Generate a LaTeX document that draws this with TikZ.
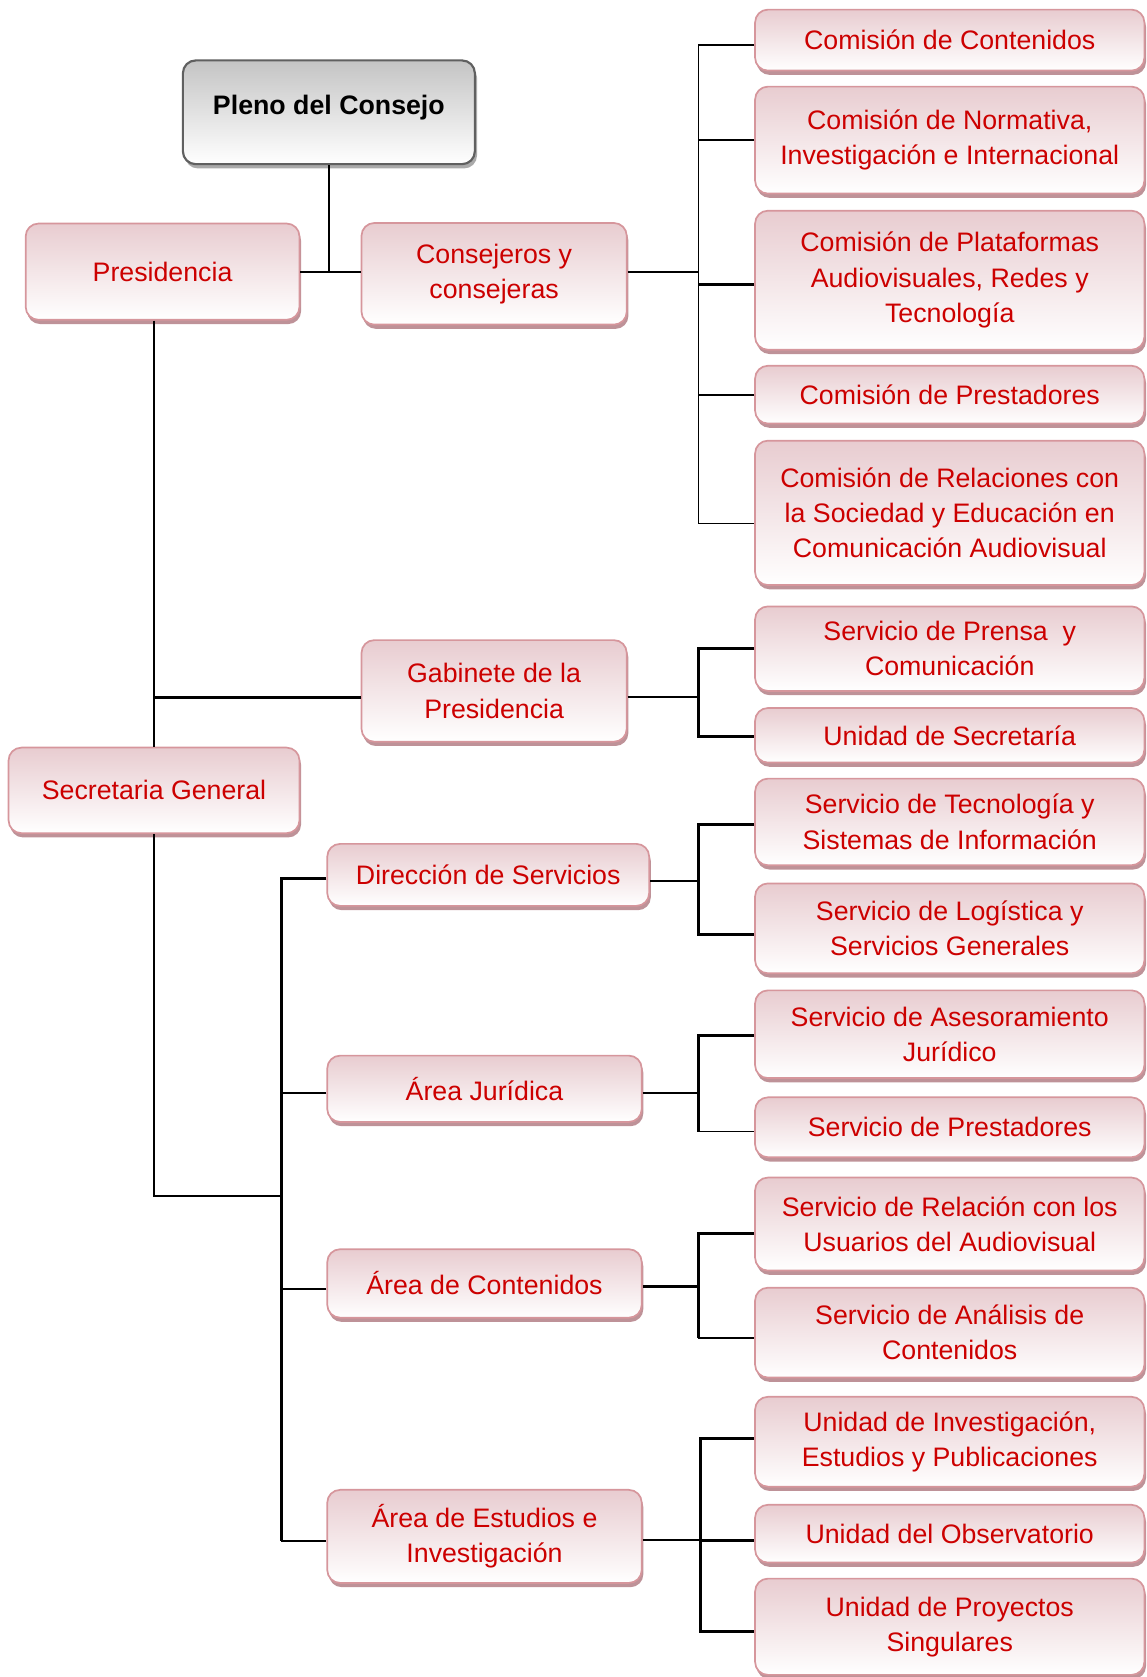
\documentclass[tikz,border=0pt]{standalone}
\usepackage{fontspec}
\setmainfont{Liberation Sans}
\usetikzlibrary{shadows}
\definecolor{txtred}{RGB}{204,0,0}
\definecolor{boxtop}{RGB}{232,204,208}
\definecolor{boxedge}{RGB}{214,150,156}
\definecolor{boxshadow}{RGB}{190,146,152}
\definecolor{graytop}{RGB}{196,196,196}
\definecolor{grayedge}{RGB}{96,96,96}
\definecolor{grayshadow}{RGB}{170,170,170}
\tikzset{
  box/.style={draw=boxedge, line width=1.6pt, rounded corners=12pt,
    top color=boxtop, bottom color=white, text=txtred, align=center,
    font=\fontsize{25}{33}\selectfont, inner sep=0pt,
    drop shadow={shadow xshift=1.5pt, shadow yshift=-4pt, fill=boxshadow, opacity=1}},
  pleno/.style={draw=grayedge, line width=2pt, rounded corners=12pt,
    top color=graytop, bottom color=white, text=black, align=center,
    font=\fontsize{25}{33}\selectfont\bfseries, inner sep=0pt,
    drop shadow={shadow xshift=2pt, shadow yshift=-4pt, fill=grayshadow, opacity=1}},
  sz/.style 2 args={minimum width=#1pt, minimum height=#2pt},
  ln/.style={line width=1.6pt, black},
  lnb/.style={line width=2.8pt, black},
}
\begin{document}
\begin{tikzpicture}[x=1pt,y=-1pt]
\useasboundingbox (0,0) rectangle (1072,1568);
% bus coordinates
\coordinate (bA) at (653,0);
\coordinate (bB) at (655,0);
\coordinate (sb) at (263,1118);
% left/middle nodes
\node[pleno, sz={273}{97}] (pl) at (307.5,105) {\raisebox{4pt}[18pt][5pt]{Pleno del Consejo}};
\node[box, sz={256}{90}] (pres) at (152,254) {Presidencia};
\node[box, sz={248}{95}] (cons) at (462,256) {Consejeros y\\consejeras};
\node[box, sz={248}{95}] (gab) at (462,646) {Gabinete de la\\Presidencia};
\node[box, sz={272}{80}] (sec) at (144,739) {Secretaria General};
\node[box, sz={301}{58}] (dir) at (456.5,818) {Dirección de Servicios};
\node[box, sz={294}{62}] (jur) at (453,1018) {Área Jurídica};
\node[box, sz={294}{64}] (cont) at (453,1200) {Área de Contenidos};
\node[box, sz={294}{87}] (est) at (453,1436.5) {Área de Estudios e\\Investigación};
% right column
\node[box, sz={364}{57}] (c1) at (888,37.5) {Comisión de Contenidos};
\node[box, sz={364}{100}] (c2) at (888,131) {Comisión de Normativa,\\Investigación e Internacional};
\node[box, sz={364}{130}] (c3) at (888,262) {Comisión de Plataformas\\Audiovisuales, Redes y\\Tecnología};
\node[box, sz={364}{54}] (c4) at (888,369) {Comisión de Prestadores};
\node[box, sz={364}{135}] (c5) at (888,479.5) {Comisión de Relaciones con\\la Sociedad y Educación en\\Comunicación Audiovisual};
\node[box, sz={364}{79}] (s1) at (888,606.5) {Servicio de Prensa \ y\\Comunicación};
\node[box, sz={364}{51}] (s2) at (888,687.5) {Unidad de Secretaría};
\node[box, sz={364}{81}] (s3) at (888,768.5) {Servicio de Tecnología y\\Sistemas de Información};
\node[box, sz={364}{84}] (s4) at (888,868) {Servicio de Logística y\\Servicios Generales};
\node[box, sz={364}{82}] (s5) at (888,967) {Servicio de Asesoramiento\\Jurídico};
\node[box, sz={364}{56}] (s6) at (888,1054) {Servicio de Prestadores};
\node[box, sz={364}{87}] (s7) at (888,1144.5) {Servicio de Relación con los\\Usuarios del Audiovisual};
\node[box, sz={364}{84}] (s8) at (888,1246) {Servicio de Análisis de\\Contenidos};
\node[box, sz={364}{84}] (u1) at (888,1348) {Unidad de Investigación,\\Estudios y Publicaciones};
\node[box, sz={364}{54}] (u2) at (888,1434) {Unidad del Observatorio};
\node[box, sz={364}{90}] (u3) at (888,1521) {Unidad de Proyectos\\Singulares};
% connectors: top
\draw[ln] (pl.south) -- (pl.south |- pres.east);
\draw[ln] (pres.east) -- (pres.east -| cons.west);
\draw[ln] (cons.east |- pres.east) -- (pres.east -| bA);
\draw[ln] ([yshift=-4.5pt]c1.west) -| ([yshift=-10pt]bA |- c5.west) -- ([yshift=-10pt]c5.west);
\draw[ln] (c2.west) -- (c2.west -| bA);
\draw[lnb] ([yshift=-4pt]c3.west) -- ([yshift=-4pt]c3.west -| bA);
\draw[ln] (c4.west) -- (c4.west -| bA);
% presidencia trunk
\draw[ln] (pres.south -| sec.north) -- (sec.north);
\draw[lnb] ([yshift=-6pt]gab.west) -- ([yshift=-6pt]gab.west -| sec.north);
\draw[ln] ([yshift=-6pt]gab.east) -- ([yshift=-6pt]gab.east -| bA);
\draw[lnb] (s1.west) -| ([yshift=-1.5pt]bA |- s2.west) -- ([yshift=-1.5pt]s2.west);
% secretaria trunk
\draw[ln] (sec.south) |- (sb);
\draw[lnb] ([yshift=-3pt]dir.west) -| ([yshift=-4.5pt]sb |- est.west);
\draw[ln] ([yshift=-4.5pt]sb |- est.west) -- ([yshift=-4.5pt]est.west);
\draw[ln] ([yshift=-4pt]jur.west) -- ([yshift=-4pt]jur.west -| sb);
\draw[ln] ([yshift=-5pt]cont.west) -- ([yshift=-5pt]cont.west -| sb);
% direccion
\draw[ln] ([yshift=-6pt]dir.east) -- ([yshift=-6pt]dir.east -| bA);
\draw[lnb] ([yshift=-2.5pt]s3.west) -| ([yshift=-6pt]bA |- s4.west) -- ([yshift=-6pt]s4.west);
% juridica
\draw[ln] ([yshift=-4pt]jur.east) -- ([yshift=-4pt]jur.east -| bA);
\draw[lnb] ([yshift=-1pt]s5.west) -| ([yshift=-4pt]bA |- s6.west);
\draw[ln] ([yshift=-4pt]bA |- s6.west) -- ([yshift=-4pt]s6.west);
% contenidos
\draw[lnb] ([yshift=-3pt]cont.east) -- ([yshift=-3pt]cont.east -| bA);
\draw[lnb] ([yshift=-8.5pt]s7.west) -| ([yshift=-5pt]bA |- s8.west);
\draw[ln] ([yshift=-5pt]bA |- s8.west) -- ([yshift=-5pt]s8.west);
% estudios
\draw[ln] ([yshift=-3.5pt]est.east) -- ([yshift=-3.5pt]est.east -| bB);
\draw[lnb] ([yshift=3pt]u1.west) -| ([yshift=-4pt]bB |- u3.west) -- ([yshift=-4pt]u3.west);
\draw[lnb] ([yshift=-6pt]u2.west) -- ([yshift=-6pt]u2.west -| bB);
\end{tikzpicture}
\end{document}
